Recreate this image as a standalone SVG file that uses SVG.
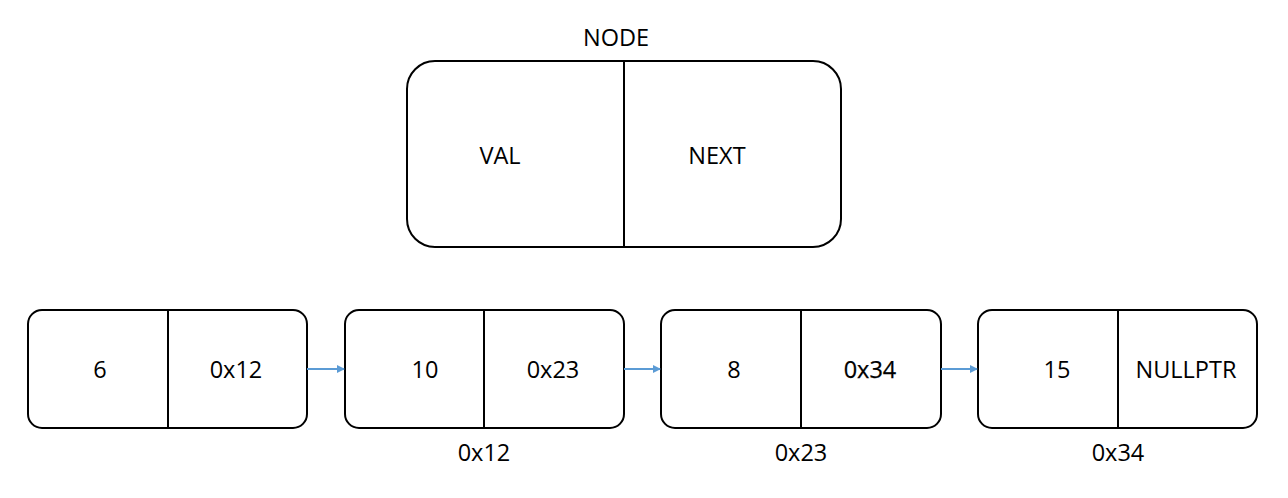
<svg xmlns="http://www.w3.org/2000/svg" width="1288" height="498" viewBox="0 0 1288 498">
<style>
.box{fill:#fff;stroke:#000;stroke-width:2}
.div{stroke:#000;stroke-width:2}
text{font-family:"Open Sans","Noto Sans","DejaVu Sans",sans-serif;font-size:23.5px;fill:#000;text-anchor:middle;dominant-baseline:central}
.con{stroke:#5B9BD5;stroke-width:2;fill:none}
</style>
<defs>
<marker id="ah" markerWidth="8" markerHeight="8" refX="7" refY="4" orient="auto" markerUnits="userSpaceOnUse">
<path d="M0,0 L8,4 L0,8 Z" fill="#5B9BD5"/>
</marker>
</defs>
<rect width="1288" height="498" fill="#fff"/>
<g id="node-def">
<text x="616" y="37">NODE</text>
<rect class="box" x="407" y="61" width="434" height="186" rx="28" ry="28"/>
<line class="div" x1="624" y1="61" x2="624" y2="247"/>
<text x="500" y="155">VAL</text>
<text x="717" y="155">NEXT</text>
</g>
<g id="node1">
<rect class="box" x="28" y="310" width="279" height="118" rx="14" ry="14"/>
<line class="div" x1="168" y1="310" x2="168" y2="428"/>
<text x="100" y="369">6</text>
<text x="236" y="369">0x12</text>
</g>
<g id="node2">
<rect class="box" x="345" y="310" width="279" height="118" rx="14" ry="14"/>
<line class="div" x1="484" y1="310" x2="484" y2="428"/>
<text x="425" y="369">10</text>
<text x="553" y="369">0x23</text>
<text x="484" y="452">0x12</text>
</g>
<g id="node3">
<rect class="box" x="661" y="310" width="280" height="118" rx="14" ry="14"/>
<line class="div" x1="801" y1="310" x2="801" y2="428"/>
<text x="734" y="369">8</text>
<text x="870" y="369" stroke="#000" stroke-width="0.25">0x34</text>
<text x="801" y="452">0x23</text>
</g>
<g id="node4">
<rect class="box" x="978" y="310" width="279" height="118" rx="14" ry="14"/>
<line class="div" x1="1118" y1="310" x2="1118" y2="428"/>
<text x="1057" y="369">15</text>
<text x="1186" y="369">NULLPTR</text>
<text x="1118" y="452">0x34</text>
</g>
<g id="connectors">
<line class="con" x1="307" y1="369" x2="344" y2="369" marker-end="url(#ah)"/>
<line class="con" x1="624" y1="369" x2="660" y2="369" marker-end="url(#ah)"/>
<line class="con" x1="941" y1="369" x2="977" y2="369" marker-end="url(#ah)"/>
</g>
</svg>
